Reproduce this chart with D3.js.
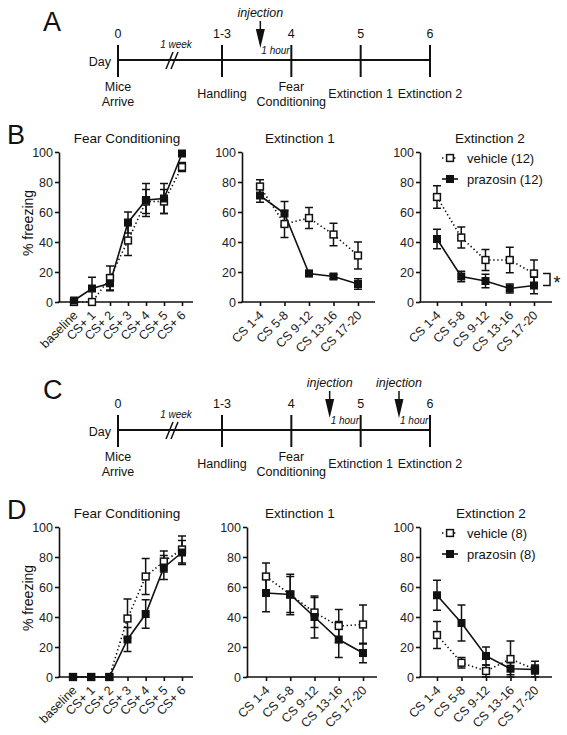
<!DOCTYPE html>
<html><head><meta charset="utf-8">
<script src="https://cdn.jsdelivr.net/npm/d3@7"></script>
<style>body{margin:0;background:#fff}svg{font-family:Arial,"Liberation Sans",Helvetica,sans-serif}</style>
</head><body><svg id="c" width="567" height="735"></svg>
<script>
// ---------- data ----------
const fcLabels = ["baseline","CS+ 1","CS+ 2","CS+ 3","CS+ 4","CS+ 5","CS+ 6"];
const extLabels = ["CS 1-4","CS 5-8","CS 9-12","CS 13-16","CS 17-20"];
const yTicks = [0,20,40,60,80,100];
const timelineDays = ["0","1-3","4","5","6"];
const timelineSlots = [0,1.5,2.5,3.5,4.5];
const timelineEvents = [["Mice","Arrive"],["Handling"],["Fear","Conditioning"],["Extinction 1"],["Extinction 2"]];
const injectionDaysA = [2];
const injectionDaysC = [3,4];
const exp1Legend = ["vehicle (12)","prazosin (12)"];
const exp2Legend = ["vehicle (8)","prazosin (8)"];

// Experiment 1 (panel B)
const b_fcVeh   = [0, 0, 16, 41, 67, 67, 90];
const b_fcVehSE = [0, 0, 8, 10, 8, 8, 3];
const b_fcPraz  = [1, 9, 12.5, 53, 68, 69, 99];
const b_fcPrazSE= [0, 7.5, 5, 7, 11, 10, 1];
const b_e1Veh   = [77, 52, 56, 45, 31];
const b_e1VehSE = [4.5, 9, 7, 7.5, 9];
const b_e1Praz  = [71, 59, 19, 17, 12];
const b_e1PrazSE= [4.5, 8, 2, 1.5, 3.5];
const b_e2Veh   = [70, 43, 28, 28, 19];
const b_e2VehSE = [7.5, 7, 7, 8.5, 9];
const b_e2Praz  = [42, 17, 14, 9, 11];
const b_e2PrazSE= [6.5, 3.5, 4.5, 3, 5.5];

// Experiment 2 (panel D)
const d_fcVeh   = [0, 0, 0, 39, 67, 77, 85];
const d_fcVehSE = [0, 0, 0, 13, 12, 7, 9];
const d_fcPraz  = [0, 0, 0, 25, 42, 73, 83];
const d_fcPrazSE= [0, 0, 0, 8, 9.5, 8, 8];
const d_e1Veh   = [67, 55, 43, 34, 35];
const d_e1VehSE = [9, 12, 10, 11, 13];
const d_e1Praz  = [56, 55, 40, 25, 16];
const d_e1PrazSE= [12.5, 13.5, 14, 12, 6.5];
const d_e2Veh   = [28, 9.5, 4, 12, 5];
const d_e2VehSE = [9, 3.5, 4, 12, 3];
const d_e2Praz  = [54.5, 36, 14, 5.5, 5];
const d_e2PrazSE= [10, 12, 6, 4, 5.5];

// ---------- drawing ----------
const svg = d3.select("#c");
const INK = "#111";

function letter(t, x, y){
  svg.append("text").attr("x",x).attr("y",y).attr("font-size",27).attr("fill",INK).text(t);
}

function timeline(yLine, injections){
  const g = svg.append("g");
  const x = d3.scaleLinear().domain([0,4.5]).range([118,430]);
  g.append("line").attr("x1",x(0)).attr("x2",x(4.5)).attr("y1",yLine).attr("y2",yLine)
    .attr("stroke",INK).attr("stroke-width",2);
  timelineSlots.forEach((s,i)=>{
    g.append("line").attr("x1",x(s)).attr("x2",x(s)).attr("y1",yLine-15).attr("y2",yLine+17)
      .attr("stroke",INK).attr("stroke-width",2);
    g.append("text").attr("x",x(s)).attr("y",yLine-22).attr("text-anchor","middle")
      .attr("font-size",12.5).attr("fill",INK).text(timelineDays[i]);
    const ev = timelineEvents[i];
    const base = ev.length===2 ? yLine+31 : yLine+38;
    ev.forEach((t,j)=>{
      g.append("text").attr("x",x(s)).attr("y",base+j*15).attr("text-anchor","middle")
        .attr("font-size",12.5).attr("fill",INK).text(t);
    });
  });
  g.append("text").attr("x",111).attr("y",yLine+6).attr("text-anchor","end")
    .attr("font-size",12.5).attr("fill",INK).text("Day");
  // week break
  const bx = 170;
  [0,5].forEach(o=>{
    g.append("line").attr("x1",bx-4+o).attr("y1",yLine+9).attr("x2",bx+3+o).attr("y2",yLine-8)
      .attr("stroke",INK).attr("stroke-width",1.5);
  });
  g.append("text").attr("x",176).attr("y",yLine-12).attr("text-anchor","middle")
    .attr("font-size",10).attr("font-style","italic").attr("fill",INK).text("1 week");
  injections.forEach(d=>{
    const ax = x(timelineSlots[d]) - 31;
    g.append("text").attr("x",ax).attr("y",yLine-43).attr("text-anchor","middle")
      .attr("font-size",12.5).attr("font-style","italic").attr("fill",INK).text("injection");
    g.append("line").attr("x1",ax).attr("x2",ax).attr("y1",yLine-39).attr("y2",yLine-30)
      .attr("stroke",INK).attr("stroke-width",1.5);
    g.append("path").attr("d",`M${ax-4.5},${yLine-31}L${ax+4.5},${yLine-31}L${ax},${yLine-12}Z`).attr("fill",INK);
    g.append("text").attr("x",ax+1).attr("y",yLine-6).attr("text-anchor","start")
      .attr("font-size",10).attr("font-style","italic").attr("fill",INK).text("1 hour");
  });
}

function panel(o){
  const g = svg.append("g");
  const y = d3.scaleLinear().domain([0,100]).range([o.yBot,o.yTop]);
  const x = d3.scalePoint().domain(o.labels).range([o.x0,o.x1]);
  // y axis
  const ya = g.append("g").attr("transform",`translate(${o.axisX},0)`)
    .call(d3.axisLeft(y).tickValues(yTicks).tickSize(4).tickSizeOuter(0).tickPadding(2));
  ya.select(".domain").attr("stroke",INK).attr("stroke-width",1.6);
  ya.selectAll(".tick line").attr("stroke",INK).attr("stroke-width",1.6);
  ya.selectAll(".tick text").attr("font-size",12.5).attr("fill","#222").attr("font-family",null);
  // x axis
  g.append("line").attr("x1",o.axisX-0.8).attr("x2",o.axisEnd).attr("y1",o.yBot).attr("y2",o.yBot)
    .attr("stroke",INK).attr("stroke-width",1.6);
  const xa = g.append("g").attr("transform",`translate(0,${o.yBot})`)
    .call(d3.axisBottom(x).tickSize(4).tickSizeOuter(0));
  xa.select(".domain").remove();
  xa.selectAll(".tick line").attr("stroke",INK).attr("stroke-width",1.6);
  xa.selectAll(".tick text").attr("font-size",12.5).attr("fill","#222").attr("font-family",null)
    .attr("text-anchor","end").attr("y",0).attr("dy",0)
    .attr("transform","translate(4,14) rotate(-45)");
  // title
  g.append("text").attr("x",o.titleX).attr("y",o.yTop-9).attr("text-anchor","middle")
    .attr("font-size",13.5).attr("fill",INK).text(o.title);
  if(o.yLabel){
    g.append("text").attr("transform",`translate(${o.axisX-26},${(o.yTop+o.yBot)/2-4}) rotate(-90)`)
      .attr("text-anchor","middle").attr("font-size",14).attr("fill",INK).text("% freezing");
  }
  const series = [
    {v:o.veh, se:o.vehSE, open:true},
    {v:o.praz, se:o.prazSE, open:false}
  ];
  // lines
  series.forEach(s=>{
    const line = d3.line().x((d,i)=>x(o.labels[i])).y(d=>y(d));
    g.append("path").attr("d",line(s.v)).attr("fill","none").attr("stroke",INK)
      .attr("stroke-width",1.6)
      .attr("stroke-dasharray",s.open?"1.4,2.6":null);
  });
  // error bars
  series.forEach(s=>{
    s.v.forEach((d,i)=>{
      if(!s.se[i]) return;
      const cx = x(o.labels[i]);
      const lo = y(Math.max(0,d-s.se[i])), hi = y(d+s.se[i]);
      g.append("line").attr("x1",cx).attr("x2",cx).attr("y1",lo).attr("y2",hi).attr("stroke",INK).attr("stroke-width",1.5);
      [lo,hi].forEach(yy=>g.append("line").attr("x1",cx-4).attr("x2",cx+4).attr("y1",yy).attr("y2",yy).attr("stroke",INK).attr("stroke-width",1.5));
    });
  });
  // markers
  series.forEach(s=>{
    s.v.forEach((d,i)=>{
      const cx = x(o.labels[i]);
      if(s.open){
        g.append("rect").attr("x",cx-3.4).attr("y",y(d)-3.4).attr("width",6.8).attr("height",6.8)
          .attr("fill","#fff").attr("stroke",INK).attr("stroke-width",1.5);
      } else {
        g.append("rect").attr("x",cx-4).attr("y",y(d)-4).attr("width",8).attr("height",8).attr("fill",INK);
      }
    });
  });
  if(o.legend){
    const lx = o.axisX+22, ly1 = o.yTop+6, ly2 = o.yTop+27;
    g.append("line").attr("x1",lx).attr("x2",lx+16).attr("y1",ly1).attr("y2",ly1).attr("stroke",INK)
      .attr("stroke-width",1.6).attr("stroke-dasharray","1.4,2.6");
    g.append("rect").attr("x",lx+8-3.4).attr("y",ly1-3.4).attr("width",6.8).attr("height",6.8)
      .attr("fill","#fff").attr("stroke",INK).attr("stroke-width",1.5);
    g.append("line").attr("x1",lx).attr("x2",lx+16).attr("y1",ly2).attr("y2",ly2).attr("stroke",INK).attr("stroke-width",1.6);
    g.append("rect").attr("x",lx+4).attr("y",ly2-4).attr("width",8).attr("height",8).attr("fill",INK);
    g.append("text").attr("x",lx+25).attr("y",ly1+4.5).attr("font-size",13).attr("fill",INK).text(o.legend[0]);
    g.append("text").attr("x",lx+25).attr("y",ly2+4.5).attr("font-size",13).attr("fill",INK).text(o.legend[1]);
  }
  if(o.star){
    const n = o.veh.length-1;
    const bx = o.axisEnd-2;
    const yv = y(o.veh[n]), yp = y(o.praz[n]);
    g.append("path").attr("d",`M${bx-7},${yv}H${bx}V${yp}H${bx-7}`).attr("fill","none").attr("stroke",INK).attr("stroke-width",1.5);
    g.append("text").attr("x",bx+7).attr("y",(yv+yp)/2+9).attr("text-anchor","middle").attr("font-size",18).attr("fill",INK).text("*");
  }
}

// A
letter("A",43,31);
timeline(60, injectionDaysA);
// B
letter("B",7,144);
panel({axisX:59,x0:74,x1:182,axisEnd:193,yTop:152,yBot:302,labels:fcLabels,
  veh:b_fcVeh,vehSE:b_fcVehSE,praz:b_fcPraz,prazSE:b_fcPrazSE,title:"Fear Conditioning",titleX:127,yLabel:true});
panel({axisX:242,x0:260,x1:358,axisEnd:375,yTop:152,yBot:302,labels:extLabels,
  veh:b_e1Veh,vehSE:b_e1VehSE,praz:b_e1Praz,prazSE:b_e1PrazSE,title:"Extinction 1",titleX:300});
panel({axisX:420,x0:437,x1:534,axisEnd:552,yTop:152,yBot:302,labels:extLabels,
  veh:b_e2Veh,vehSE:b_e2VehSE,praz:b_e2Praz,prazSE:b_e2PrazSE,title:"Extinction 2",titleX:490,legend:exp1Legend,star:true});
// C
letter("C",43,399);
timeline(430, injectionDaysC);
// D
letter("D",7,519);
panel({axisX:59,x0:73,x1:182,axisEnd:193,yTop:527,yBot:677,labels:fcLabels,
  veh:d_fcVeh,vehSE:d_fcVehSE,praz:d_fcPraz,prazSE:d_fcPrazSE,title:"Fear Conditioning",titleX:127,yLabel:true});
panel({axisX:247,x0:266,x1:363,axisEnd:377,yTop:527,yBot:677,labels:extLabels,
  veh:d_e1Veh,vehSE:d_e1VehSE,praz:d_e1Praz,prazSE:d_e1PrazSE,title:"Extinction 1",titleX:300});
panel({axisX:420,x0:437,x1:535,axisEnd:552,yTop:527,yBot:677,labels:extLabels,
  veh:d_e2Veh,vehSE:d_e2VehSE,praz:d_e2Praz,prazSE:d_e2PrazSE,title:"Extinction 2",titleX:491,legend:exp2Legend});
</script></body></html>
